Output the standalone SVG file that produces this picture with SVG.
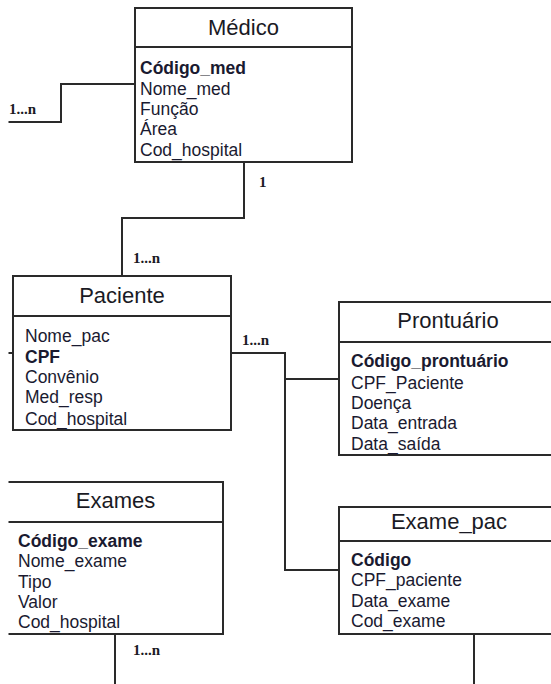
<svg xmlns="http://www.w3.org/2000/svg" width="551" height="684" viewBox="0 0 551 684">
<style>
.box{fill:#fff;stroke:#2a2a2a;stroke-width:2}
.div{stroke:#2a2a2a;stroke-width:2}
.title{font-family:"Liberation Sans",Arial,sans-serif;font-size:22px;fill:#1a1a24;text-anchor:middle}
.attr{font-family:"Liberation Sans",Arial,sans-serif;font-size:17.5px;fill:#1a1a30}
.pk{font-weight:bold}
.conn{fill:none;stroke:#2a2a2a;stroke-width:2}
.lbl{font-family:"Liberation Serif","Times New Roman",serif;font-size:15px;font-weight:bold;fill:#1a1a24}
</style>
<defs><clipPath id="crop"><rect x="8.5" y="0" width="543" height="684"/></clipPath></defs>
<rect width="551" height="684" fill="#fff"/>
<g clip-path="url(#crop)">
<g id="connectors">
<path class="conn" d="M135,84 H61 V122 H0"/>
<path class="conn" d="M244,162 V218 H122 V276"/>
<path class="conn" d="M231,353 H285 V570 H339"/>
<path class="conn" d="M285,379 H339"/>
<path class="conn" d="M0,353 H13"/>
<path class="conn" d="M115,634 V684"/>
<path class="conn" d="M474,634 V684"/>
<text class="lbl" x="36" y="114" text-anchor="end">1...n</text>
<text class="lbl" x="259" y="187">1</text>
<text class="lbl" x="133" y="263">1...n</text>
<text class="lbl" x="242" y="345">1...n</text>
<text class="lbl" x="133" y="655">1...n</text>
</g>
<g id="medico">
<rect class="box" x="135" y="8" width="217" height="154"/>
<line class="div" x1="135" y1="47" x2="352" y2="47"/>
<text class="title" x="243.5" y="35">Médico</text>
<text class="attr pk" x="140" y="74">Código_med</text>
<text class="attr" x="140" y="95">Nome_med</text>
<text class="attr" x="140" y="115">Função</text>
<text class="attr" x="140" y="135">Área</text>
<text class="attr" x="140" y="156">Cod_hospital</text>
</g>
<g id="paciente">
<rect class="box" x="13" y="276" width="218" height="154"/>
<line class="div" x1="13" y1="316" x2="231" y2="316"/>
<text class="title" x="122" y="303">Paciente</text>
<text class="attr" x="25" y="342">Nome_pac</text>
<text class="attr pk" x="25" y="363">CPF</text>
<text class="attr" x="25" y="383">Convênio</text>
<text class="attr" x="25" y="403">Med_resp</text>
<text class="attr" x="25" y="425">Cod_hospital</text>
</g>
<g id="prontuario">
<rect class="box" x="339" y="302" width="260" height="153"/>
<line class="div" x1="339" y1="342" x2="599" y2="342"/>
<text class="title" x="448" y="328">Prontuário</text>
<text class="attr pk" x="351" y="367">Código_prontuário</text>
<text class="attr" x="351" y="389">CPF_Paciente</text>
<text class="attr" x="351" y="409">Doença</text>
<text class="attr" x="351" y="429">Data_entrada</text>
<text class="attr" x="351" y="450">Data_saída</text>
</g>
<g id="exames">
<rect class="box" x="-20" y="482" width="243" height="152"/>
<line class="div" x1="-20" y1="522" x2="223" y2="522"/>
<text class="title" x="115.5" y="508">Exames</text>
<text class="attr pk" x="18" y="547">Código_exame</text>
<text class="attr" x="18" y="567">Nome_exame</text>
<text class="attr" x="18" y="588">Tipo</text>
<text class="attr" x="18" y="608">Valor</text>
<text class="attr" x="18" y="628">Cod_hospital</text>
</g>
<g id="exame_pac">
<rect class="box" x="339" y="507" width="260" height="127"/>
<line class="div" x1="339" y1="541" x2="599" y2="541"/>
<text class="title" x="449" y="529">Exame_pac</text>
<text class="attr pk" x="351" y="566">Código</text>
<text class="attr" x="351" y="586">CPF_paciente</text>
<text class="attr" x="351" y="607">Data_exame</text>
<text class="attr" x="351" y="627">Cod_exame</text>
</g>
</g>
</svg>
